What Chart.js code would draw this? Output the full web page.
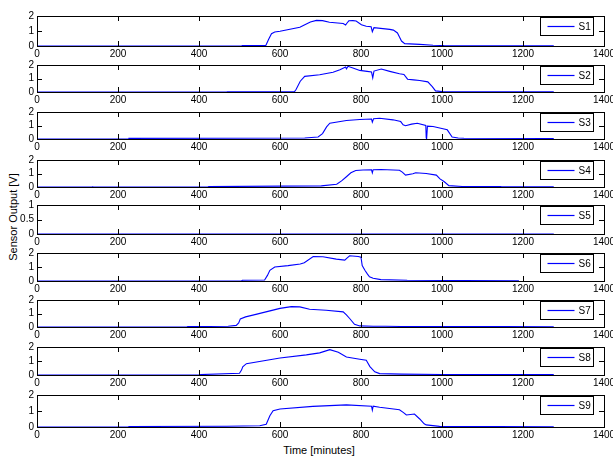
<!DOCTYPE html>
<html>
<head>
<meta charset="utf-8">
<script src="https://cdn.jsdelivr.net/npm/chart.js@4/dist/chart.umd.min.js"></script>
<style>
  body { margin: 0; background: #fff; width: 613px; height: 458px; overflow: hidden; position: relative; font-family: "Liberation Sans", Arial, sans-serif; }
  .panel { position: absolute; left: 0; }
  #ylab { position: absolute; left: 13px; top: 217px; transform: translate(-50%, -50%) rotate(-90deg); font-size: 11px; white-space: nowrap; }
  #xlab { position: absolute; left: 319px; top: 450px; transform: translate(-50%, -50%); font-size: 11px; white-space: nowrap; }
</style>
</head>
<body>
<div id="ylab">Sensor Output [V]</div>
<div id="xlab">Time [minutes]</div>
<script>
// sensor names and readings (time in minutes, output in volts)
const sensors = ['S1', 'S2', 'S3', 'S4', 'S5', 'S6', 'S7', 'S8', 'S9'];
const xTicks = [0, 200, 400, 600, 800, 1000, 1200, 1400];
const yTicksFull = [0, 1, 2];
const yTicksS5 = [0, 0.5, 1];

const s1Time = [0, 505, 507, 565, 572, 579, 587, 600, 649, 660, 675, 690, 705, 722, 756, 762, 766, 770, 780, 788, 801, 813, 825, 828, 832, 871, 880, 890, 895, 900, 908, 945, 978, 1005, 1276];
const s1Volt = [0, 0, 0.03, 0.04, 0.45, 0.82, 0.93, 0.98, 1.25, 1.4, 1.6, 1.71, 1.69, 1.58, 1.5, 1.4, 1.55, 1.68, 1.69, 1.67, 1.42, 1.32, 1.28, 0.95, 1.22, 1.11, 1.06, 0.87, 0.6, 0.33, 0.16, 0.11, 0.05, 0.03, 0.02];

const s2Time = [0, 468, 470, 636, 640, 650, 661, 698, 731, 748, 762, 764, 768, 780, 797, 815, 826, 829, 832, 850, 871, 895, 906, 915, 930, 945, 965, 976, 984, 1000, 1276];
const s2Volt = [0, 0, 0.02, 0.03, 0.2, 0.8, 1.16, 1.28, 1.46, 1.65, 1.85, 1.72, 1.9, 1.78, 1.6, 1.53, 1.48, 1.05, 1.55, 1.7, 1.53, 1.35, 1.3, 0.95, 0.9, 0.85, 0.75, 0.4, 0.08, 0.03, 0.02];

const s3Time = [0, 225, 227, 661, 694, 705, 715, 723, 764, 797, 826, 828, 831, 846, 879, 898, 904, 910, 925, 939, 960, 961, 962, 964, 978, 997, 1013, 1025, 1040, 1054, 1276];
const s3Volt = [0, 0, 0.05, 0.07, 0.15, 0.4, 0.9, 1.17, 1.37, 1.44, 1.48, 1.25, 1.5, 1.54, 1.42, 1.29, 1.05, 0.98, 1.1, 1.17, 1.0, 0.1, 0.0, 0.95, 0.93, 0.8, 0.68, 0.15, 0.07, 0.05, 0.04];

const s4Time = [0, 136, 137, 138, 422, 424, 702, 740, 752, 764, 775, 787, 805, 826, 828, 830, 849, 895, 902, 910, 928, 935, 961, 986, 995, 1005, 1017, 1050, 1145, 1147, 1276];
const s4Volt = [0, 0, 0.06, 0, 0, 0.03, 0.08, 0.2, 0.45, 0.76, 1.05, 1.22, 1.26, 1.27, 1.05, 1.28, 1.3, 1.24, 1.1, 0.88, 0.98, 1.05, 1.0, 0.88, 0.6, 0.41, 0.1, 0.04, 0.03, 0.01, 0.01];

const s5Time = [0, 1276];
const s5Volt = [0, 0];

const s6Time = [0, 505, 507, 562, 569, 575, 587, 620, 650, 660, 682, 706, 739, 760, 766, 772, 793, 800, 803, 810, 816, 821, 830, 849, 914, 1190];
const s6Volt = [0, 0, 0.05, 0.07, 0.4, 0.76, 1.0, 1.1, 1.22, 1.3, 1.75, 1.73, 1.56, 1.49, 1.65, 1.8, 1.75, 1.7, 1.1, 0.75, 0.49, 0.3, 0.2, 0.1, 0.05, 0.02];

const s7Time = [0, 370, 372, 472, 492, 498, 502, 515, 533, 600, 628, 649, 673, 714, 756, 764, 772, 784, 797, 830, 860, 900, 1000, 1150, 1276];
const s7Volt = [0, 0, 0.03, 0.05, 0.12, 0.3, 0.6, 0.75, 0.88, 1.38, 1.51, 1.49, 1.32, 1.24, 1.12, 0.9, 0.63, 0.2, 0.08, 0.06, 0.05, 0.04, 0.03, 0.03, 0.02];

const s8Time = [0, 402, 404, 500, 505, 508, 517, 600, 665, 698, 723, 744, 764, 797, 813, 822, 834, 846, 900, 1000, 1276];
const s8Volt = [0, 0, 0.03, 0.12, 0.35, 0.58, 0.81, 1.21, 1.44, 1.58, 1.81, 1.63, 1.28, 1.12, 1.05, 0.6, 0.23, 0.1, 0.06, 0.04, 0.03];

const s9Time = [0, 225, 227, 468, 550, 566, 575, 583, 600, 681, 764, 826, 828, 830, 846, 895, 905, 912, 932, 945, 956, 961, 994, 1276];
const s9Volt = [0, 0, 0.03, 0.05, 0.08, 0.17, 0.7, 1.02, 1.13, 1.29, 1.38, 1.3, 1.05, 1.3, 1.23, 1.08, 0.9, 0.75, 0.81, 0.5, 0.2, 0.13, 0.04, 0.02];

const yTicks = [yTicksFull, yTicksFull, yTicksFull, yTicksFull, yTicksS5, yTicksFull, yTicksFull, yTicksFull, yTicksFull];

const times = [s1Time, s2Time, s3Time, s4Time, s5Time, s6Time, s7Time, s8Time, s9Time];
const volts = [s1Volt, s2Volt, s3Volt, s4Volt, s5Volt, s6Volt, s7Volt, s8Volt, s9Volt];

// panel layout (plot area top/bottom in page pixels)
const plotTop = [16, 65, 112, 160, 205, 253, 300, 347, 395];
const plotBottom = [46, 92, 139, 187, 234, 281, 327, 375, 427];
const PAD_TOP = 7;
const X_AXIS_H = 14;
const FONT = '"Liberation Sans", Arial, sans-serif';
const LINE_COLOR = '#0000ff';

// matlab-ish box, inward ticks and legend
const boxPlugin = {
    id: 'box',
    afterDraw(chart) {
        const ctx = chart.ctx;
        const a = chart.chartArea;
        const xs = chart.scales.x;
        const ys = chart.scales.y;
        ctx.save();
        ctx.strokeStyle = '#000';
        ctx.lineWidth = 1;
        ctx.strokeRect(a.left + 0.5, a.top + 0.5, a.right - a.left, a.bottom - a.top);

        ctx.beginPath();
        xs.ticks.forEach(t => {
            const px = Math.round(xs.getPixelForValue(t.value)) + 0.5;
            ctx.moveTo(px, a.bottom);
            ctx.lineTo(px, a.bottom - 5);
            ctx.moveTo(px, a.top);
            ctx.lineTo(px, a.top + 5);
        });
        ys.ticks.forEach(t => {
            const py = Math.round(ys.getPixelForValue(t.value)) + 0.5;
            ctx.moveTo(a.left, py);
            ctx.lineTo(a.left + 5, py);
            ctx.moveTo(a.right, py);
            ctx.lineTo(a.right - 5, py);
        });
        ctx.stroke();

        // legend
        const ds = chart.data.datasets[0];
        const bx = Math.round(a.right - 11 - 53) + 0.5;
        const by = Math.round(a.top + 1) + 0.5;
        const bw = 53, bh = 18;
        ctx.fillStyle = '#fff';
        ctx.fillRect(bx, by, bw, bh);
        ctx.strokeRect(bx, by, bw, bh);
        ctx.beginPath();
        ctx.strokeStyle = LINE_COLOR;
        ctx.lineWidth = 1.2;
        ctx.moveTo(bx + 7, by + bh / 2);
        ctx.lineTo(bx + 34, by + bh / 2);
        ctx.stroke();
        ctx.fillStyle = '#000';
        ctx.font = '10px ' + FONT;
        ctx.textBaseline = 'middle';
        ctx.fillText(ds.label, bx + 38, by + bh / 2 + 0.5);
        ctx.restore();
    }
};

sensors.forEach((name, i) => {
    const h = plotBottom[i] - plotTop[i];
    const div = document.createElement('div');
    div.className = 'panel';
    div.style.top = (plotTop[i] - PAD_TOP) + 'px';
    const canvas = document.createElement('canvas');
    canvas.width = 613;
    canvas.height = PAD_TOP + h + X_AXIS_H;
    div.appendChild(canvas);
    document.body.appendChild(div);

    const points = times[i].map((t, k) => ({ x: t, y: volts[i][k] }));
    const yt = yTicks[i];

    new Chart(canvas.getContext('2d'), {
        type: 'line',
        data: {
            datasets: [{
                label: name,
                data: points,
                borderColor: LINE_COLOR,
                borderWidth: 1.1,
                pointRadius: 0,
                tension: 0,
                fill: false
            }]
        },
        options: {
            responsive: false,
            animation: false,
            devicePixelRatio: 1,
            layout: { padding: { top: PAD_TOP, right: 9, left: 0, bottom: 0 } },
            plugins: { legend: { display: false }, tooltip: { enabled: false } },
            scales: {
                x: {
                    type: 'linear',
                    min: 0,
                    max: 1400,
                    afterBuildTicks: scale => { scale.ticks = xTicks.map(v => ({ value: v })); },
                    ticks: {
                        autoSkip: false, maxRotation: 0, padding: 2, color: '#000',
                        font: { size: 10, family: FONT },
                        callback: v => String(v)
                    },
                    grid: { display: false, drawTicks: false },
                    border: { display: false },
                    afterFit: scale => { scale.height = X_AXIS_H; scale.paddingLeft = 0; scale.paddingRight = 0; }
                },
                y: {
                    min: yt[0],
                    max: yt[yt.length - 1],
                    afterBuildTicks: scale => { scale.ticks = yt.map(v => ({ value: v })); },
                    ticks: {
                        autoSkip: false, padding: 3, color: '#000',
                        font: { size: 10, family: FONT },
                        callback: v => String(v)
                    },
                    grid: { display: false, drawTicks: false },
                    border: { display: false },
                    afterFit: scale => { scale.width = 37; scale.paddingTop = 0; scale.paddingBottom = 0; }
                }
            }
        },
        plugins: [boxPlugin]
    });
});
</script>
</body>
</html>
